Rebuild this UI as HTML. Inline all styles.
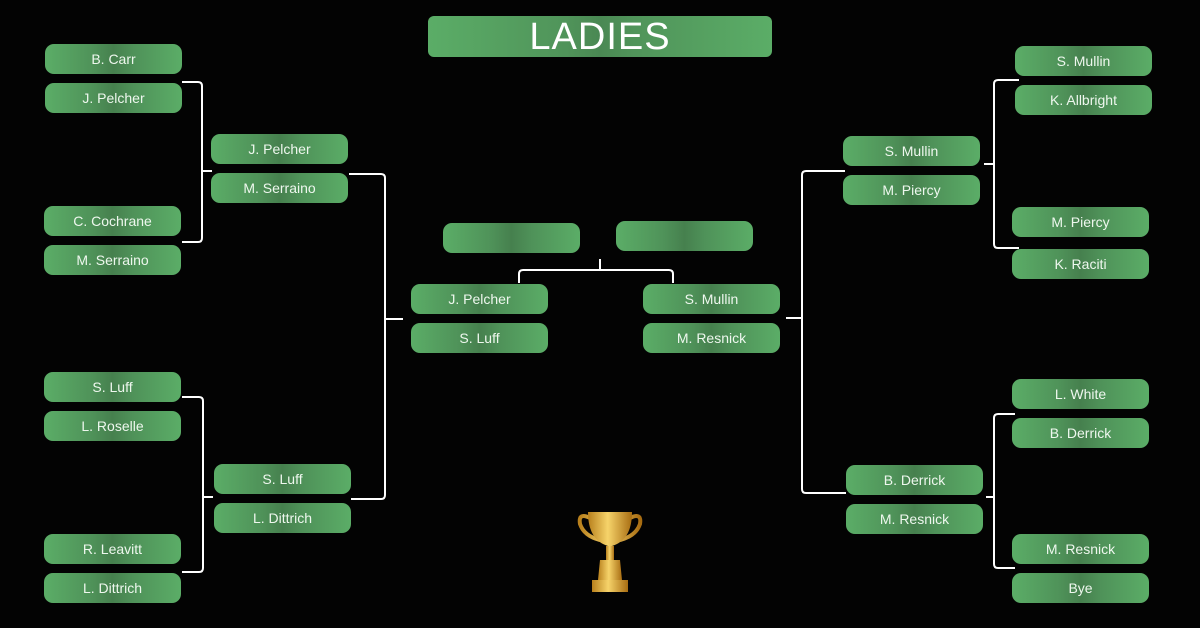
<!DOCTYPE html>
<html><head><style>
body{margin:0;background:#000;}
#c{position:relative;width:1200px;height:628px;background:#030303;overflow:hidden;font-family:"Liberation Sans",sans-serif;}
.b{position:absolute;width:137px;height:30px;border-radius:9px;background:linear-gradient(90deg,#5bad67 0%,#4f9259 35%,#46804e 50%,#4f9259 65%,#5bad67 100%);color:#eef7ee;font-size:14px;line-height:30px;text-align:center;}
.t{position:absolute;left:428px;top:16px;width:344px;height:41px;border-radius:6px;background:linear-gradient(90deg,#5bad67 0%,#50945a 40%,#4a8853 50%,#50945a 60%,#5bad67 100%);color:#fff;font-size:38px;line-height:43px;text-align:center;letter-spacing:1px;}
svg{position:absolute;left:0;top:0;}
</style></head><body><div id="c">
<svg width="1200" height="628" fill="none" stroke="#fff" stroke-width="2">
<path d="M182 82H198Q202 82 202 86V238Q202 242 198 242H182M202 171H212"/>
<path d="M182 397H199Q203 397 203 401V568Q203 572 199 572H182M203 497H213"/>
<path d="M349 174H381Q385 174 385 178V495Q385 499 381 499H351M385 319H403"/>
<path d="M519 283V274Q519 270 523 270H669Q673 270 673 274V283M600 270V259"/>
<path d="M1019 80H998Q994 80 994 84V244Q994 248 998 248H1019M994 164H984"/>
<path d="M1015 414H998Q994 414 994 418V564Q994 568 998 568H1015M994 497H986"/>
<path d="M845 171H806Q802 171 802 175V489Q802 493 806 493H846M802 318H786"/>
</svg>
<div class="t">LADIES</div>
<div class="b" style="left:45px;top:44px">B. Carr</div>
<div class="b" style="left:45px;top:83px">J. Pelcher</div>
<div class="b" style="left:44px;top:206px">C. Cochrane</div>
<div class="b" style="left:44px;top:245px">M. Serraino</div>
<div class="b" style="left:44px;top:372px">S. Luff</div>
<div class="b" style="left:44px;top:411px">L. Roselle</div>
<div class="b" style="left:44px;top:534px">R. Leavitt</div>
<div class="b" style="left:44px;top:573px">L. Dittrich</div>
<div class="b" style="left:211px;top:134px">J. Pelcher</div>
<div class="b" style="left:211px;top:173px">M. Serraino</div>
<div class="b" style="left:214px;top:464px">S. Luff</div>
<div class="b" style="left:214px;top:503px">L. Dittrich</div>
<div class="b" style="left:443px;top:223px"></div>
<div class="b" style="left:616px;top:221px"></div>
<div class="b" style="left:411px;top:284px">J. Pelcher</div>
<div class="b" style="left:411px;top:323px">S. Luff</div>
<div class="b" style="left:643px;top:284px">S. Mullin</div>
<div class="b" style="left:643px;top:323px">M. Resnick</div>
<div class="b" style="left:843px;top:136px">S. Mullin</div>
<div class="b" style="left:843px;top:175px">M. Piercy</div>
<div class="b" style="left:846px;top:465px">B. Derrick</div>
<div class="b" style="left:846px;top:504px">M. Resnick</div>
<div class="b" style="left:1015px;top:46px">S. Mullin</div>
<div class="b" style="left:1015px;top:85px">K. Allbright</div>
<div class="b" style="left:1012px;top:207px">M. Piercy</div>
<div class="b" style="left:1012px;top:249px">K. Raciti</div>
<div class="b" style="left:1012px;top:379px">L. White</div>
<div class="b" style="left:1012px;top:418px">B. Derrick</div>
<div class="b" style="left:1012px;top:534px">M. Resnick</div>
<div class="b" style="left:1012px;top:573px">Bye</div>
<svg width="1200" height="628" style="left:0;top:0">
<defs><linearGradient id="g" x1="0" x2="1"><stop offset="0" stop-color="#b8801c"/><stop offset=".45" stop-color="#f6d36a"/><stop offset="1" stop-color="#a86d12"/></linearGradient></defs>
<path d="M590 518Q578 512 580 524Q584 536 600 540M630 518Q642 512 640 524Q636 536 620 540" stroke="url(#g)" stroke-width="4" fill="none"/>
<path d="M588 512H632Q632 540 612 546H608Q588 540 588 512Z" fill="url(#g)"/>
<rect x="606" y="546" width="8" height="14" fill="url(#g)"/>
<path d="M600 560H620L622 580H598Z" fill="url(#g)"/>
<rect x="592" y="580" width="36" height="12" fill="url(#g)"/>
</svg>
</div></body></html>
